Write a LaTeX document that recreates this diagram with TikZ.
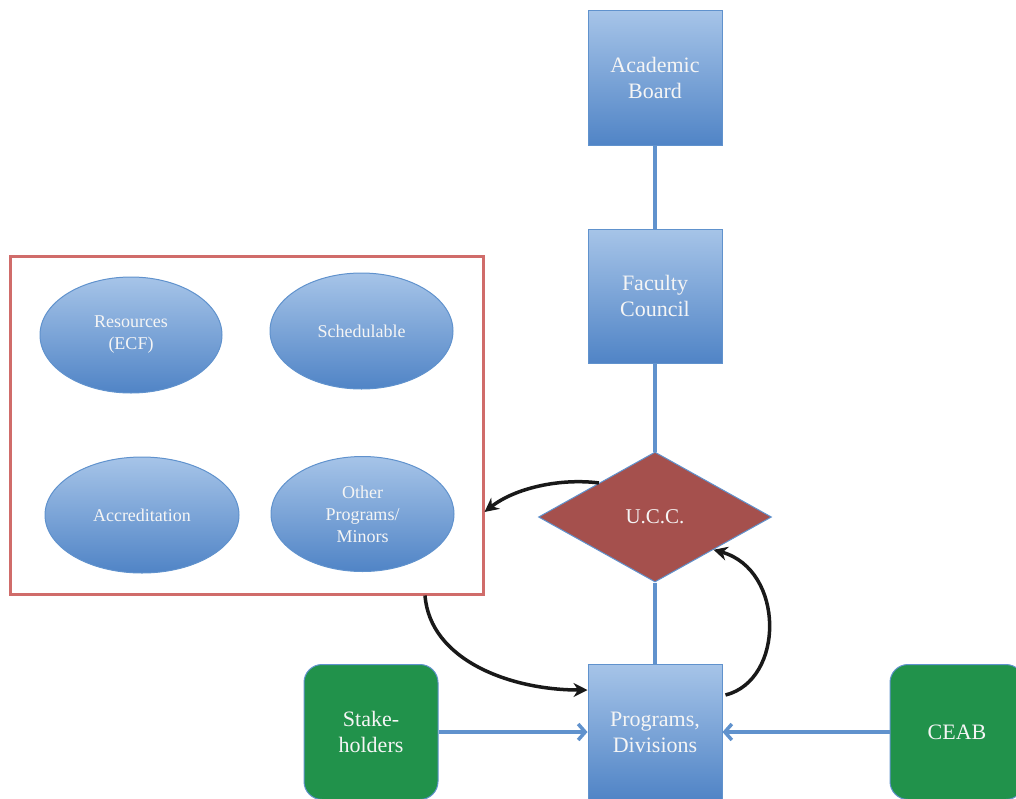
\documentclass[tikz,border=0pt]{standalone}
\usepackage{fontspec}
\setmainfont{Liberation Serif}
\usetikzlibrary{shapes.geometric,arrows.meta,calc}
\definecolor{bluetop}{RGB}{166,196,232}
\definecolor{bluebot}{RGB}{80,132,198}
\definecolor{blueline}{RGB}{96,146,205}
\definecolor{uccred}{RGB}{165,80,77}
\definecolor{boxred}{RGB}{208,108,106}
\definecolor{greenbox}{RGB}{33,146,75}
\definecolor{textwhite}{RGB}{245,245,245}
\tikzset{
  bluebox/.style={rectangle, draw=blueline, line width=1pt, top color=bluetop, bottom color=bluebot,
    minimum width=134pt, minimum height=135pt, inner sep=0pt, align=center, text=textwhite,
    font=\fontsize{22}{26}\selectfont},
  oval/.style={ellipse, draw=blueline, line width=1pt, top color=bluetop, bottom color=bluebot,
    inner sep=0pt, align=center, text=textwhite, font=\fontsize{18}{22}\selectfont},
  greenrbox/.style={rectangle, rounded corners=18pt, draw=blueline, line width=1pt, fill=greenbox,
    minimum width=134pt, minimum height=135pt, inner sep=0pt, align=center, text=textwhite,
    font=\fontsize{22}{26}\selectfont},
  link/.style={draw=blueline, line width=3.5pt},
  bluearrow/.style={draw=blueline, line width=3.5pt, -{Straight Barb[length=7pt,width=16pt,line width=3.5pt]}},
  blackarrow/.style={draw=black!90, line width=3.5pt, -{Stealth[length=14pt,width=14pt]}},
}
\begin{document}
\begin{tikzpicture}[x=1pt,y=-1pt]
\useasboundingbox (0,0) rectangle (1016,798);
\clip (0,0) rectangle (1016,798);
% nodes
\node[bluebox] (ab) at (655,78) {Academic\\Board};
\node[bluebox, minimum height=134pt] (fc) at (655,296) {Faculty\\Council};
\node[diamond, draw=blueline, line width=1pt, fill=uccred, minimum width=233pt, minimum height=130pt,
  aspect=1.79, inner sep=0pt, text=textwhite, font=\fontsize{21}{24}\selectfont] (ucc) at (655,517) {U.C.C.};
\node[bluebox] (prog) at (655,732) {Programs,\\Divisions};
\node[greenrbox] (stake) at (371,732) {Stake-\\holders};
\node[greenrbox] (ceab) at (957,732) {CEAB};
\node[rectangle, draw=boxred, line width=3pt, minimum width=473pt, minimum height=338pt, inner sep=0pt] (red) at (246.5,425) {};
\node[oval, minimum width=182pt, minimum height=116pt] (res) at (131,335) {Resources\\(ECF)};
\node[oval, minimum width=183pt, minimum height=116pt] (sch) at (361.5,331) {Schedulable};
\node[oval, minimum width=194pt, minimum height=116pt] (acc) at (142,515) {Accreditation};
\node[oval, minimum width=183pt, minimum height=115pt] (oth) at (362.5,514) {Other\\Programs/\\Minors};
% blue links
\draw[link] (ab.south) -- (fc.north);
\draw[link] (fc.south) -- (ucc.north);
\draw[link] (ucc.south) -- (prog.north);
\draw[bluearrow] (stake.east) -- (prog.west);
\draw[bluearrow] (ceab.west) -- (prog.east);
% black arrows
\coordinate (uccul) at ($(ucc.west)!0.52!(ucc.north)$);
\coordinate (ucclr) at ($(ucc.east)!0.5!(ucc.south)$);
\coordinate (redin) at (red.east |- 0,512);
\coordinate (redout) at (red.south -| 425,0);
\coordinate (progin) at ($(prog.west)+(0,-42)$);
\coordinate (progout) at ($(prog.east)+(3,-37)$);
\draw[blackarrow] (uccul) .. controls (560,478) and (515,488) .. (redin);
\draw[blackarrow] (redout) .. controls (430,660) and (510,690) .. (progin);
\draw[blackarrow] (progout) .. controls (785,680) and (785,570) .. (ucclr);
\end{tikzpicture}
\end{document}
